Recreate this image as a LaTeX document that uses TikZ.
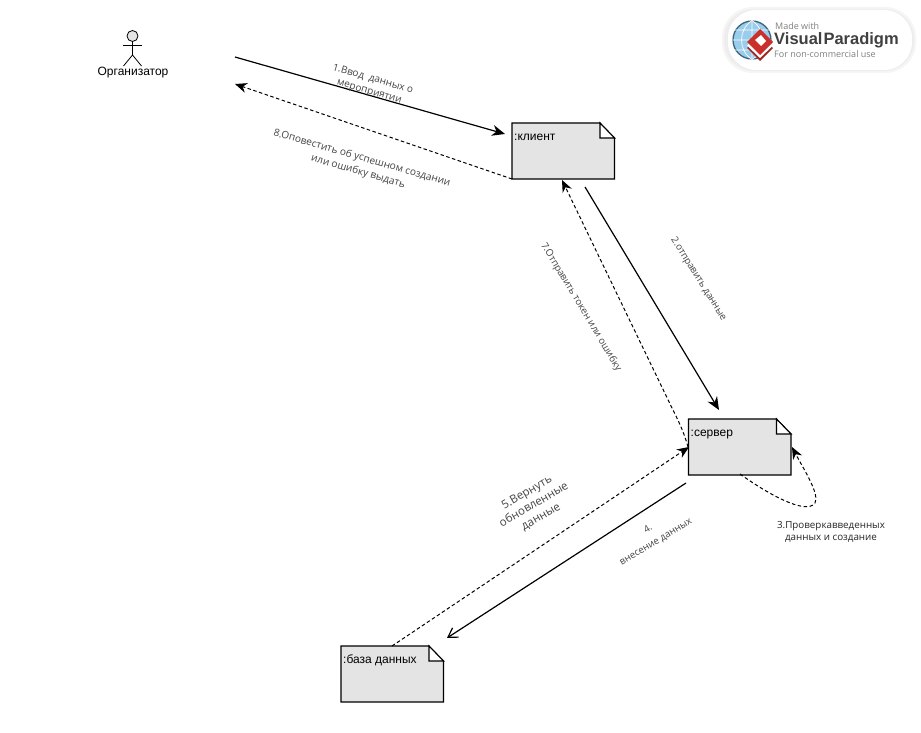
\documentclass[tikz,border=0pt]{standalone}
\usepackage{fontspec}
\setmainfont{Liberation Sans}
\newfontfamily\lblfont{Open Sans}
\usetikzlibrary{arrows.meta,calc}
\definecolor{notefill}{HTML}{E4E4E4}
\definecolor{lblgray}{HTML}{444444}
\definecolor{vpred}{HTML}{C9302C}
\definecolor{vpblue}{HTML}{6FB7E3}
\tikzset{
  notelabel/.style={anchor=north west,inner sep=0pt,font=\fontsize{12}{14}\selectfont},
  solidmsg/.style={draw=black,line width=1.2pt,-{Stealth[length=13pt,width=11pt]}},
  openmsg/.style={draw=black,line width=1.2pt,-{Straight Barb[length=9pt,width=11pt]}},
  dashmsg/.style={draw=black,line width=1pt,dash pattern=on 3.5pt off 2.5pt,-{Stealth[length=12pt,width=10pt]}},
  msglabel/.style={text=lblgray,align=center,inner sep=0pt,font=\lblfont\fontsize{9.7}{12}\selectfont},
  actorline/.style={draw=black,line width=0.8pt}
}
\newcommand{\deploybox}[4]{%
  \path[fill=notefill,draw=black,line width=1.1pt] (#2,#3) coordinate (#1) -- ++(88,0) -- ++(14.5,-15) -- ++(0,-41) -- ++(-102.5,0) -- cycle;
  \path[fill=white,draw=black,line width=1.1pt] (#2+88,#3) -- ++(14.5,-15) -- ++(-14.5,0) -- cycle;
  \node[notelabel] (#1text) at (#2+2,#3-8) {\rule{0pt}{9pt}#4};
}
\begin{document}
\begin{tikzpicture}[x=1pt,y=1pt]
\useasboundingbox (0,0) rectangle (921,-733);
\fill[white] (0,0) rectangle (921,-733);

% logo
\fill[black!4,rounded corners=31pt] (722,-7) rectangle (916,-73);
\fill[black!7,rounded corners=30pt] (724,-9) rectangle (914,-71);
\node[draw=none,fill=white,rounded corners=28pt,minimum width=184pt,minimum height=60pt,inner sep=0pt] (logo) at (820,-40) {};
\node[circle,draw=black!45!vpblue,fill=vpblue!70,line width=1.3pt,minimum size=38pt,inner sep=0pt] (globe) at (752,-40) {};
\draw[white,line width=0.7pt] (globe.west) -- (globe.east) (globe.north) -- (globe.south)
  (globe.north) .. controls (738,-30) and (738,-50) .. (globe.south)
  (globe.north) .. controls (766,-30) and (766,-50) .. (globe.south)
  (735,-30) -- (769,-30) (735,-50) -- (769,-50);
\fill[vpred!80!black] (747,-48) -- (760,-36) -- (773,-48) -- (760,-61) -- cycle;
\fill[white] (747,-45.5) -- (760,-33) -- (773,-45.5) -- (760,-58) -- cycle;
\fill[vpred] (747,-42) -- (760,-29) -- (773,-42) -- (760,-55) -- cycle;
\fill[white] (755,-40) -- (761,-35) -- (766,-41) -- (761,-46) -- cycle;
\node[anchor=west,inner sep=0pt,text=black!50,font=\lblfont\fontsize{9}{10}\selectfont] (logoa) at (775,-26) {Made with};
\node[anchor=west,inner sep=0pt,text=black!75,font=\bfseries\fontsize{16.5}{18}\selectfont] (logob) at (774,-40) {Visual\kern1pt Paradigm};
\node[anchor=west,inner sep=0pt,text=black!50,font=\lblfont\fontsize{9}{10}\selectfont] (logoc) at (774,-54) {For non-commercial use};

% actor
\node[circle,draw=black,fill=notefill,line width=0.8pt,minimum size=11pt,inner sep=0pt] (head) at (132.5,-36) {};
\coordinate (hip) at (132.5,-55);
\draw[actorline] (head.south) -- (hip);
\draw[actorline] (123,-45.5) -- (142,-45.5);
\draw[actorline] (123.5,-66) -- (hip) -- (141.5,-66);
\node[inner sep=0pt,font=\fontsize{12}{14}\selectfont] (actor) at (133,-72.5) {Организатор};

% deployment boxes
\deploybox{client}{512}{-123}{:клиент}
\deploybox{server}{688.5}{-419}{:сервер}
\deploybox{db}{341}{-646}{:база данных}

% connector ends
\coordinate (a1s) at (235,-57);
\coordinate (a1e) at (505,-134);
\coordinate (a8s) at (512,-179);
\coordinate (a8e) at (235,-84);
\coordinate (a2s) at (585,-187);
\coordinate (a2e) at (719,-410);
\coordinate (a7s) at (688,-447);
\coordinate (a7e) at (562,-180);
\coordinate (a4s) at (686,-483);
\coordinate (a4e) at (447,-638);
\coordinate (a5s) at (392,-646);
\coordinate (a5e) at (689,-447);
\coordinate (a3s) at (740,-474);
\coordinate (a3e) at (792,-447);

\draw[solidmsg] (a1s) -- (a1e);
\draw[dashmsg] (a8s) -- (a8e);
\draw[solidmsg] (a2s) -- (a2e);
\draw[dashmsg] (a7s) .. controls (684,-432) and (678,-420) .. (672,-408) -- (a7e);
\draw[openmsg] (a4s) -- (a4e);
\draw[dashmsg] (a5s) -- (a5e);
\draw[dashmsg] (a3s) .. controls (765,-492) and (806,-516) .. (815,-503) .. controls (820,-494) and (803,-468) .. (a3e);

% labels
\node[msglabel,rotate=-16,font=\lblfont\fontsize{10}{13}\selectfont] (l1) at (371,-85.5) {1.Ввод\ \ данных о\\мероприятии};
\node[msglabel,rotate=-16,font=\lblfont\fontsize{10.1}{14}\selectfont] (l8) at (360,-165) {8.Оповестить об успешном создании\\или ошибку выдать};
\node[msglabel,rotate=-58] (l2) at (698.5,-279) {2.отправить данные};
\node[msglabel,rotate=-59] (l7) at (581,-307) {7.Отправить токен или ошибку};
\node[msglabel,rotate=30,font=\lblfont\fontsize{11.5}{14}\selectfont] (l5) at (534,-505) {5.Вернуть\\обновленные\\данные};
\node[msglabel,rotate=31,font=\lblfont\fontsize{9.6}{15}\selectfont] (l4) at (652,-535.5) {4.\\внесение данных};
\node[msglabel,font=\lblfont\fontsize{9.8}{12.5}\selectfont,text=black!85] (l3) at (831,-532) {3.Проверкавведенных\\данных и создание};
\end{tikzpicture}
\end{document}
